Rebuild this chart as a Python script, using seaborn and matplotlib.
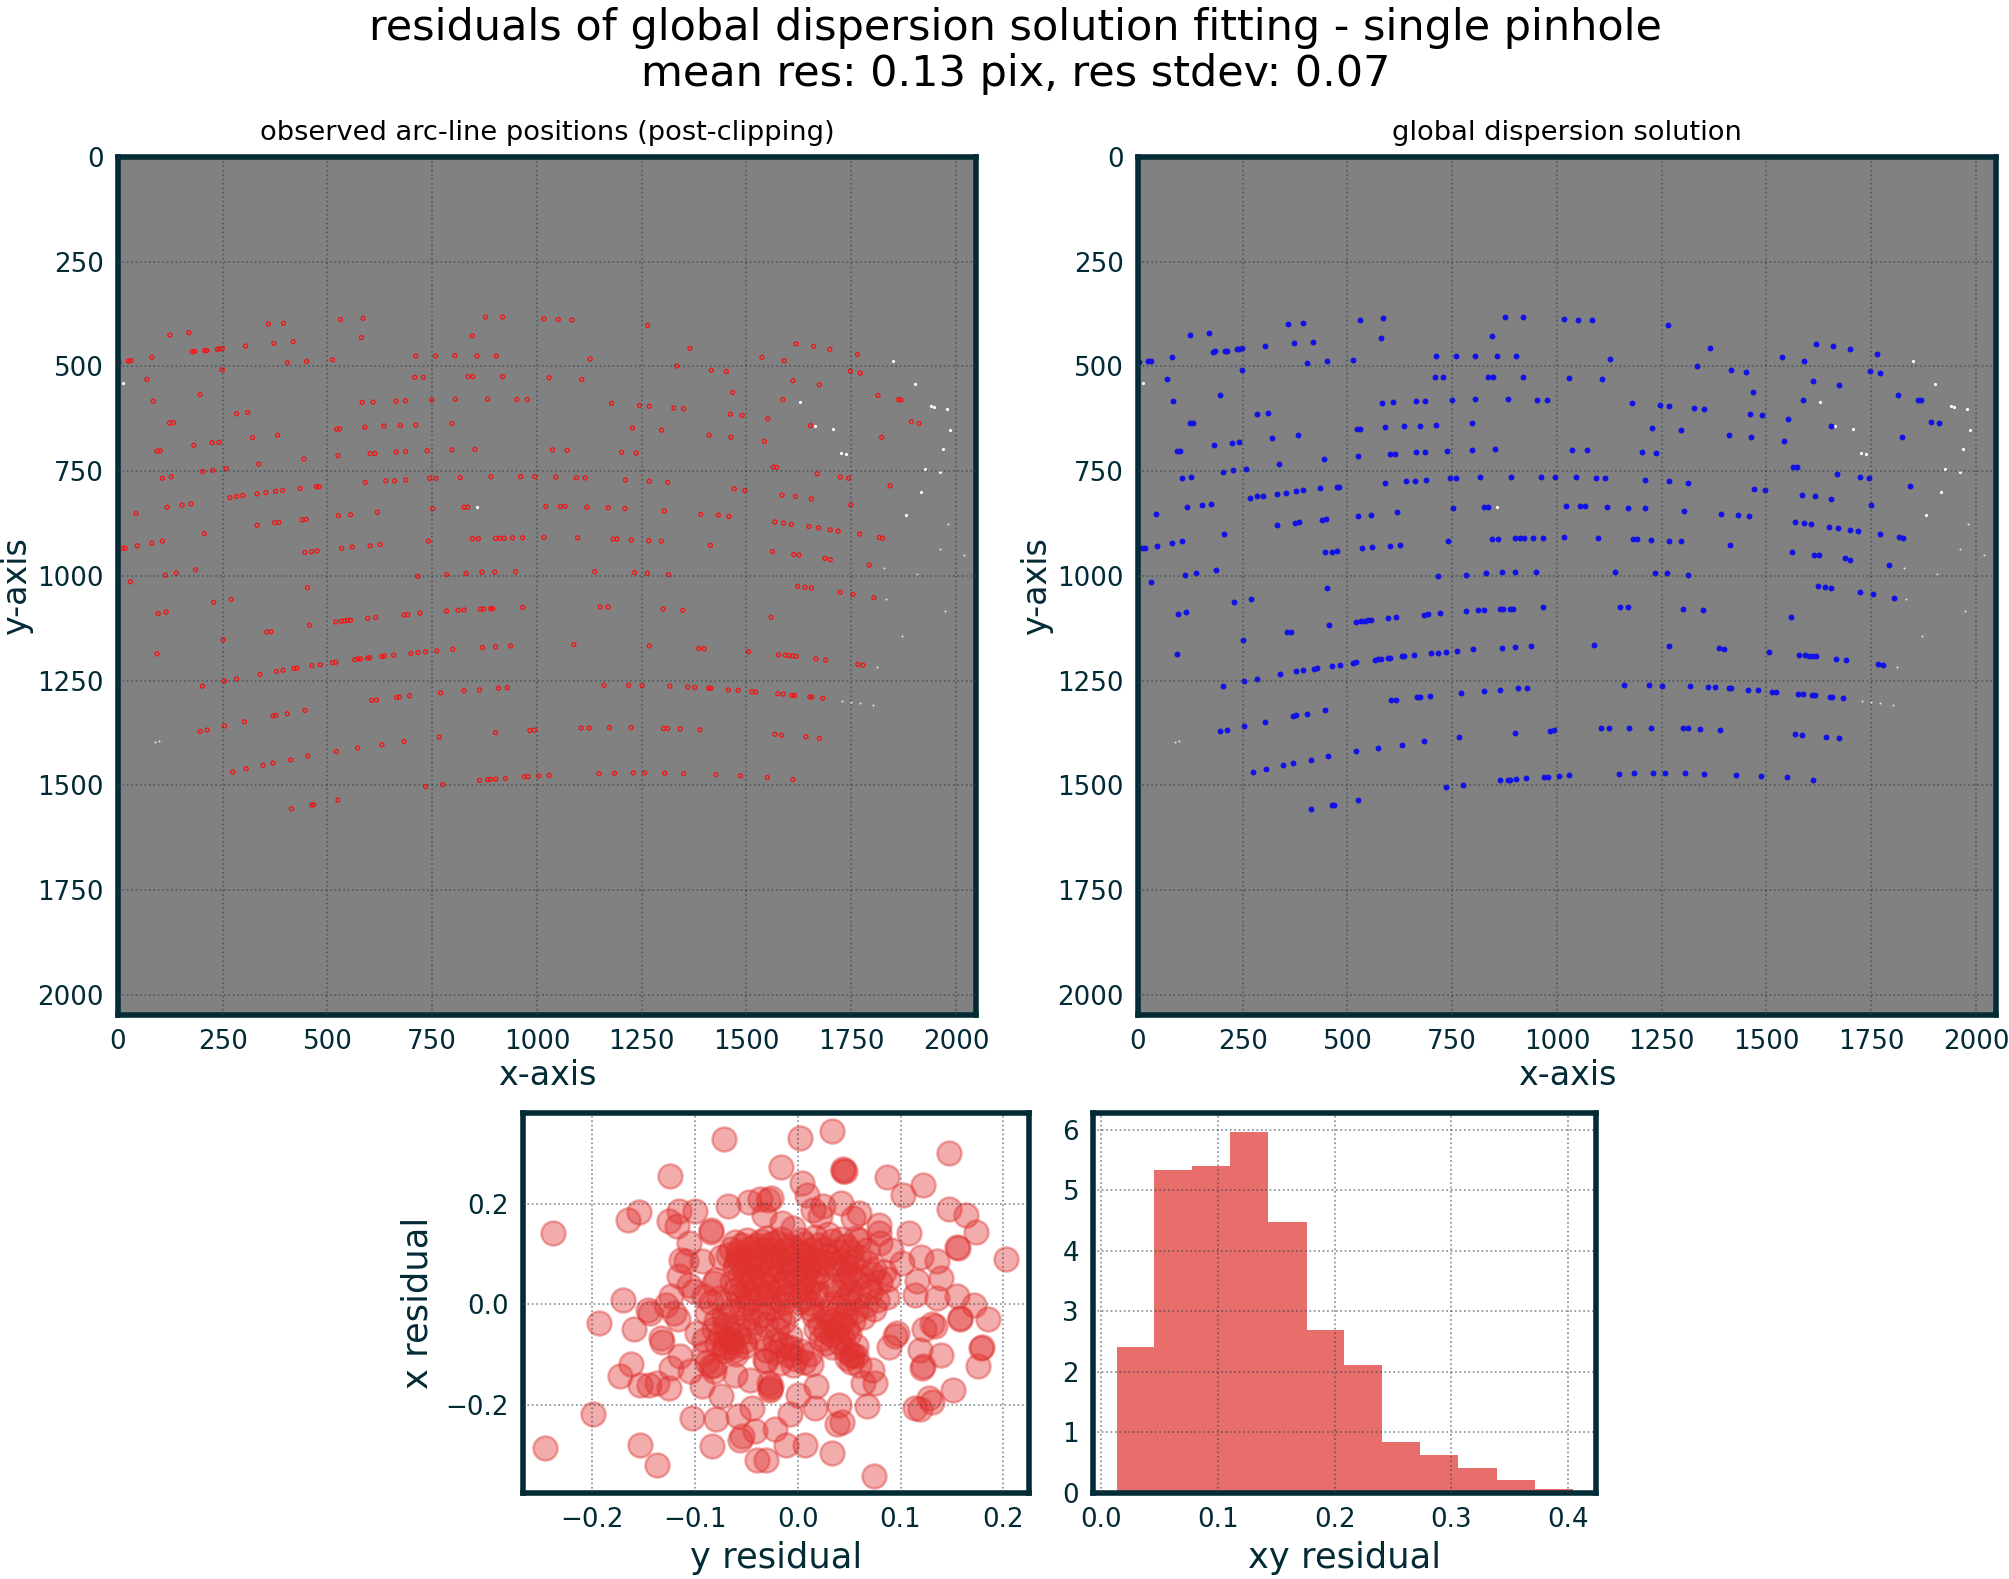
import matplotlib
matplotlib.use('Agg')
import matplotlib.pyplot as plt
import seaborn as sns

# --- values ---
# arc line positions, pixel x / pixel y on the detector
ARC_LINES = [
    (3, 490), (25, 487), (31, 486), (81, 478), (124, 425), (169, 419), (178, 465), (183, 464), (207, 462), (212, 462),
    (237, 459), (242, 458), (249, 457), (304, 451), (359, 399), (395, 397), (372, 445), (418, 441), (404, 491), (450, 488),
    (512, 484), (531, 388), (585, 385), (581, 431), (711, 475), (758, 475), (804, 474), (857, 475), (903, 475), (877, 382),
    (918, 382), (846, 427), (1017, 386), (1051, 388), (1083, 389), (1127, 482), (1264, 402), (1365, 457), (1334, 499),
    (1537, 478), (1590, 486), (1619, 446), (1660, 452), (1699, 459), (1765, 471),
    (249, 508), (69, 531), (708, 526), (729, 526), (835, 524), (847, 524), (918, 524), (1029, 527), (1107, 531),
    (1416, 509), (1452, 512), (1748, 511), (1772, 516), (1611, 534), (1674, 544),
    (84, 583), (196, 567), (583, 586), (609, 585), (664, 583), (686, 582), (749, 580), (805, 578), (882, 578), (952, 579),
    (977, 579), (1178, 588), (1245, 593), (1268, 595), (1327, 599), (1350, 601), (1467, 562), (1587, 579), (1814, 569),
    (1863, 579), (1869, 580),
    (123, 635), (132, 634), (283, 613), (310, 610), (522, 650), (529, 649), (589, 645), (635, 642), (674, 641), (711, 640),
    (797, 636), (1228, 647), (1297, 652), (1462, 614), (1490, 617), (1551, 625), (1653, 641), (1894, 632), (1912, 636),
    (321, 670), (381, 664), (181, 688), (225, 682), (241, 681), (93, 702), (101, 701), (444, 721), (525, 713), (602, 708),
    (613, 708), (664, 704), (686, 703), (738, 701), (797, 699), (852, 698), (1037, 699), (1072, 700), (1202, 705),
    (1237, 707), (1411, 664), (1463, 669), (1543, 679), (1823, 669),
    (336, 733), (202, 751), (226, 748), (258, 744), (106, 767), (127, 763), (590, 777), (639, 773), (660, 773), (687, 771),
    (744, 767), (759, 767), (817, 765), (890, 763), (961, 763), (995, 763), (1045, 764), (1094, 766), (1115, 766),
    (1211, 771), (1268, 774), (1312, 777), (1564, 740), (1572, 741), (1669, 756), (1724, 764), (1744, 767), (1471, 792),
    (1496, 796), (1843, 785),
    (267, 813), (283, 810), (298, 808), (332, 804), (353, 801), (376, 798), (393, 796), (435, 791), (474, 787), (480, 787),
    (1585, 807), (1617, 810), (1655, 816), (1749, 831),
    (43, 851), (117, 836), (153, 831), (174, 828), (526, 856), (555, 854), (619, 848), (751, 839), (826, 836), (835, 836),
    (1021, 834), (1056, 834), (1067, 834), (1119, 836), (1170, 837), (1210, 839), (1304, 845), (1391, 853), (1433, 855),
    (1458, 858),
    (332, 879), (374, 873), (384, 872), (440, 866), (449, 865), (206, 899), (1568, 871), (1589, 874), (1607, 877),
    (1649, 882), (1672, 885), (1700, 890), (1719, 893), (1770, 900), (1817, 908), (1825, 910),
    (10, 934), (17, 934), (46, 928), (81, 922), (106, 917), (741, 917), (846, 911), (860, 911), (901, 910), (911, 910),
    (922, 910), (942, 909), (966, 909), (1017, 908), (1097, 909), (1182, 912), (1191, 912), (1225, 914), (1267, 916),
    (1297, 917), (1414, 927),
    (446, 944), (462, 942), (475, 940), (534, 934), (559, 931), (602, 928), (626, 925), (1562, 942), (1613, 949),
    (1625, 950), (1687, 958), (1700, 961), (1793, 974),
    (113, 998), (139, 993), (185, 985), (30, 1014), (716, 1001), (784, 997), (831, 994), (869, 991), (899, 991), (949, 990),
    (1138, 990), (1233, 992), (1263, 994), (1314, 997),
    (452, 1028), (1622, 1025), (1640, 1027), (1655, 1029), (1724, 1039), (1754, 1044), (1804, 1052), (228, 1063), (270, 1056),
    (96, 1090), (115, 1086), (520, 1110), (533, 1108), (541, 1107), (548, 1106), (555, 1106), (596, 1101), (615, 1099),
    (683, 1093), (692, 1092), (721, 1089), (784, 1084), (812, 1082), (826, 1081), (865, 1079), (872, 1079), (889, 1078),
    (894, 1078), (966, 1075), (1151, 1074), (1170, 1074), (1301, 1079), (1348, 1082), (1559, 1099),
    (355, 1134), (365, 1133), (457, 1118), (251, 1152),
    (93, 1186), (339, 1235), (378, 1228), (394, 1225), (420, 1221), (427, 1220), (463, 1214), (483, 1212), (512, 1207),
    (520, 1206), (565, 1200), (573, 1198), (579, 1198), (596, 1196), (601, 1195), (630, 1192), (636, 1191), (658, 1189),
    (699, 1185), (716, 1183), (734, 1181), (761, 1179), (799, 1175), (870, 1171), (901, 1169), (937, 1167), (1088, 1164),
    (1268, 1167), (1386, 1173), (1399, 1174), (1505, 1181), (1577, 1188), (1593, 1189), (1602, 1190), (1610, 1191),
    (1619, 1192), (1666, 1198), (1689, 1201), (1766, 1211), (1778, 1213),
    (254, 1251), (283, 1246), (202, 1263), (1160, 1261), (1219, 1261), (1251, 1262), (1317, 1263), (1360, 1265), (1377, 1266),
    (1410, 1268), (1415, 1268), (1457, 1272), (1480, 1273), (1513, 1276), (1522, 1277), (1575, 1281), (1588, 1282),
    (1609, 1285), (1615, 1285), (1651, 1289), (1656, 1289), (1682, 1292), (605, 1297), (617, 1296), (665, 1290), (672, 1289),
    (696, 1286), (770, 1279), (826, 1274), (863, 1272), (908, 1268), (929, 1267),
    (446, 1321), (404, 1329), (370, 1334), (377, 1333), (302, 1348), (254, 1358), (196, 1371), (213, 1368), (1105, 1363),
    (1124, 1363), (1173, 1362), (1225, 1362), (1302, 1364), (1312, 1364), (1342, 1365), (1389, 1367), (983, 1369), (994, 1368),
    (901, 1374), (767, 1385), (1568, 1378), (1584, 1380), (1642, 1384), (1674, 1388),
    (683, 1395), (630, 1403), (572, 1411), (521, 1419), (453, 1430), (412, 1439), (370, 1447), (346, 1452), (306, 1460),
    (274, 1468), (1148, 1472), (1185, 1471), (1230, 1470), (1257, 1470), (1305, 1471), (1350, 1472), (1427, 1474), (1486, 1477),
    (1550, 1481), (1611, 1486), (1029, 1476), (1004, 1477), (979, 1479), (970, 1479), (925, 1483), (902, 1485), (889, 1486),
    (882, 1486), (863, 1488), (775, 1498), (734, 1503),
    (525, 1535), (462, 1547), (467, 1546), (414, 1556),
]

# bright pixels left in the frame, no line fitted there
HOT_PIXELS = [
    (13, 540), (1850, 487), (1902, 541), (1628, 585), (1664, 641), (1707, 649), (1940, 595), (1948, 596), (1978, 602),
    (1986, 652), (1725, 706), (1737, 708), (1969, 698), (1926, 744), (1961, 751), (1916, 800), (856, 835), (1880, 854),
]
FAINT_PIXELS = [
    (1982, 875), (1961, 935), (2020, 949), (1829, 981), (1906, 996), (1834, 1056), (1973, 1083), (1871, 1143), (1812, 1218),
    (1727, 1298), (1749, 1301), (1770, 1303), (1801, 1308), (88, 1397), (97, 1395),
]

# (y residual, x residual)
RESIDUALS = [
    (-0.238, 0.142), (-0.245, -0.286), (-0.199, -0.219), (-0.193, -0.038), (-0.170, 0.009), (-0.165, 0.168), (-0.154, 0.184),
    (-0.173, -0.143), (-0.162, -0.119), (-0.159, -0.049), (-0.153, -0.160), (-0.144, -0.160), (-0.137, -0.156), (-0.137, -0.320),
    (-0.153, -0.280), (-0.124, 0.256), (-0.125, 0.165), (-0.117, 0.156), (-0.115, 0.186), (-0.100, 0.186), (-0.072, 0.329),
    (0.002, 0.331), (0.033, 0.345), (-0.016, 0.274), (0.044, 0.269), (0.046, 0.266), (0.044, 0.265), (0.004, 0.241), (0.009, 0.218),
    (0.087, 0.253), (0.102, 0.218), (0.122, 0.237), (0.147, 0.302), (0.147, 0.190), (0.164, 0.178), (0.173, 0.145), (0.108, 0.142),
    (0.202, 0.090), (0.155, 0.115), (0.156, 0.112), (0.135, 0.087), (0.120, 0.095), (0.139, 0.052), (0.116, 0.046), (0.114, 0.019),
    (0.135, 0.013), (0.155, 0.016), (0.171, -0.001), (0.185, -0.029), (0.158, -0.027), (0.158, -0.029), (0.131, -0.040),
    (0.133, -0.044), (0.123, -0.050), (0.139, -0.100), (0.119, -0.090), (0.122, -0.123), (0.121, -0.127), (0.179, -0.084),
    (0.178, -0.087), (0.175, -0.122), (0.151, -0.171), (0.128, -0.186), (0.131, -0.195), (0.114, -0.206), (0.119, -0.208),
    (0.097, -0.057), (0.095, -0.062), (0.089, -0.084), (0.067, -0.203), (0.075, -0.156), (0.064, -0.156), (0.072, -0.130),
    (0.054, -0.100), (0.057, -0.103), (0.043, -0.235), (0.038, -0.239), (0.040, -0.200), (0.017, -0.206), (-0.007, -0.219),
    (0.033, -0.296), (0.007, -0.280), (-0.011, -0.280), (0.074, -0.341), (-0.039, -0.309), (-0.031, -0.310), (-0.022, -0.249),
    (-0.041, -0.253), (-0.054, -0.263), (-0.056, -0.269), (-0.083, -0.282), (-0.058, -0.223), (-0.103, -0.226), (-0.079, -0.229),
    (-0.074, -0.183), (-0.044, -0.206), (-0.027, -0.170), (-0.027, -0.166), (-0.026, -0.163), (-0.028, -0.156), (0.000, -0.180),
    (0.018, -0.163), (-0.093, -0.163), (-0.105, -0.133), (-0.123, -0.127), (-0.114, -0.103), (-0.125, -0.166), (-0.133, -0.067),
    (-0.132, -0.074), (-0.143, -0.017), (-0.145, -0.011), (-0.128, -0.001), (-0.120, -0.017), (-0.116, -0.030), (-0.123, 0.016),
    (-0.106, 0.122), (-0.113, 0.089), (-0.108, 0.086), (-0.115, 0.056), (-0.106, 0.039), (-0.101, 0.026), (-0.091, 0.016),
    (-0.093, 0.086), (-0.084, 0.149), (-0.084, 0.145), (-0.081, 0.042), (-0.079, 0.049), (-0.074, 0.095), (-0.068, 0.195),
    (-0.047, 0.204), (-0.037, 0.210), (-0.029, 0.208), (-0.026, 0.211), (-0.033, 0.178), (-0.015, 0.162), (-0.004, 0.152),
    (0.015, 0.188), (0.022, 0.175), (0.025, 0.195), (0.042, 0.202), (0.060, 0.182), (0.054, 0.172), (0.079, 0.158), (0.079, 0.142),
    (0.080, 0.122), (0.060, 0.129), (0.057, 0.132), (0.067, 0.109), (0.091, 0.109), (0.101, 0.082),
    (-0.061, 0.124), (-0.054, 0.118), (-0.036, 0.127), (-0.027, 0.120), (-0.021, 0.125), (-0.007, 0.117), (0.003, 0.128),
    (0.020, 0.119), (0.033, 0.126), (0.047, 0.116),
    (-0.068, 0.098), (-0.058, 0.092), (-0.041, 0.101), (-0.031, 0.093), (-0.021, 0.097), (-0.009, 0.090), (0.006, 0.099),
    (0.016, 0.091), (0.030, 0.096), (0.043, 0.089), (0.060, 0.094),
    (-0.061, 0.072), (-0.051, 0.066), (-0.039, 0.074), (-0.027, 0.064), (-0.017, 0.071), (-0.004, 0.063), (0.011, 0.073),
    (0.023, 0.066), (0.038, 0.070), (0.050, 0.062), (0.074, 0.071), (0.084, 0.065),
    (-0.064, 0.045), (-0.054, 0.038), (-0.042, 0.047), (-0.031, 0.036), (-0.012, 0.044), (0.003, 0.037), (0.015, 0.046),
    (0.033, 0.039), (0.045, 0.043), (0.069, 0.036), (0.080, 0.045),
    (-0.058, 0.019), (-0.046, 0.011), (-0.034, 0.020), (-0.021, 0.012), (-0.009, 0.018), (0.006, 0.010), (0.023, 0.019),
    (0.047, 0.013), (0.060, 0.017), (0.077, 0.009), (0.087, 0.015),
    (-0.054, -0.008), (-0.041, -0.015), (-0.024, -0.007), (-0.007, -0.013), (0.013, -0.009), (0.027, -0.016), (0.040, -0.008),
    (0.057, -0.014), (0.074, -0.010),
    (-0.079, -0.034), (-0.071, -0.041), (-0.041, -0.035), (-0.031, -0.042), (-0.014, -0.036), (0.022, -0.041), (0.032, -0.034),
    (0.042, -0.040), (0.054, -0.033),
    (-0.074, -0.061), (-0.066, -0.068), (-0.058, -0.060), (-0.036, -0.067), (-0.007, -0.062), (0.023, -0.069), (0.033, -0.060),
    (0.043, -0.066), (0.050, -0.059),
    (-0.071, -0.085), (-0.061, -0.091), (-0.051, -0.083), (-0.031, -0.090), (-0.010, -0.084), (0.003, -0.092), (0.033, -0.085),
    (0.047, -0.090), (0.057, -0.083),
    (-0.088, -0.114), (-0.081, -0.120), (-0.031, -0.113), (-0.004, -0.121), (0.006, -0.115), (0.013, -0.119), (0.052, -0.114),
    (0.060, -0.120),
    (-0.088, -0.017), (-0.081, -0.050), (-0.091, -0.070), (-0.098, -0.057), (-0.091, -0.097), (-0.084, -0.123), (-0.081, -0.133),
    (-0.061, -0.140), (-0.046, -0.150), (-0.032, -0.110), (-0.017, -0.117),
    # packed core, overlaps too much to read one by one
    (-0.065, 0.110), (-0.058, 0.105), (-0.049, 0.128), (-0.045, 0.112), (-0.040, 0.118), (-0.034, 0.108), (-0.030, 0.133),
    (-0.024, 0.110), (-0.016, 0.131), (-0.012, 0.108), (-0.004, 0.112), (0.001, 0.104), (0.006, 0.120), (0.012, 0.109),
    (0.017, 0.135), (0.026, 0.110), (0.030, 0.140), (0.038, 0.106), (0.042, 0.130), (0.052, 0.105),
    (-0.060, 0.082), (-0.052, 0.086), (-0.046, 0.078), (-0.036, 0.083), (-0.026, 0.080), (-0.014, 0.084), (-0.006, 0.078),
    (0.002, 0.082), (0.010, 0.077), (0.020, 0.080), (0.025, 0.085), (0.035, 0.080), (0.047, 0.078), (0.053, 0.084),
    (0.066, 0.082), (0.072, 0.060),
    (-0.056, 0.056), (-0.046, 0.052), (-0.036, 0.056), (-0.024, 0.052), (-0.010, 0.056), (-0.001, 0.050), (0.007, 0.056),
    (0.018, 0.053), (0.047, 0.052), (0.056, 0.048), (0.062, 0.055), (0.088, 0.050),
    (-0.060, 0.028), (-0.050, 0.024), (-0.040, 0.030), (-0.028, 0.026), (-0.016, 0.030), (-0.003, 0.024), (0.010, 0.028),
    (0.018, 0.022), (0.038, 0.024), (0.052, 0.026), (0.070, 0.024),
    (-0.048, 0.002), (-0.030, 0.004), (-0.014, 0.002), (0.001, 0.004), (0.012, 0.002), (0.034, 0.000), (0.050, 0.002),
    (0.066, -0.002),
    (-0.072, -0.024), (-0.048, -0.026), (-0.034, -0.022), (-0.018, -0.026), (0.016, -0.024), (0.030, -0.028), (0.046, -0.024),
    (0.064, -0.026),
    (-0.068, -0.050), (-0.058, -0.046), (-0.046, -0.052), (0.018, -0.050), (0.028, -0.052), (0.038, -0.048), (0.048, -0.050),
    (-0.020, -0.050),
    (-0.064, -0.074), (-0.052, -0.072), (0.028, -0.076), (0.040, -0.074), (-0.008, -0.100), (-0.002, -0.108), (0.052, -0.100),
    (0.048, -0.106),
    (-0.078, -0.078), (-0.070, -0.072), (-0.072, -0.092), (-0.060, -0.098), (-0.066, -0.084), (-0.016, -0.078), (-0.022, -0.094),
    (-0.006, -0.086), (0.012, -0.098), (-0.084, 0.004), (-0.076, 0.012), (-0.068, 0.000), (-0.064, -0.014), (-0.022, -0.072),
]

# histogram of the xy residual, density per bin
HIST_EDGES = [0.0132, 0.0450, 0.0781, 0.1105, 0.1429, 0.1760, 0.2081, 0.2409, 0.2736, 0.3061, 0.3388, 0.3716, 0.4043]
HIST_DENSITY = [2.41, 5.33, 5.40, 5.97, 4.48, 2.69, 2.12, 0.843, 0.628, 0.419, 0.209, 0.066]

DETECTOR_TICKS = [0, 250, 500, 750, 1000, 1250, 1500, 1750, 2000]
SCATTER_XTICKS = [-0.2, -0.1, 0.0, 0.1, 0.2]
SCATTER_YTICKS = [-0.2, 0.0, 0.2]
HIST_XTICKS = [0.0, 0.1, 0.2, 0.3, 0.4]
HIST_YTICKS = [0, 1, 2, 3, 4, 5, 6]

# --- Configuration ---
INK = '#022b36'
GRID = '#2c3e46'
RED = '#df312e'
W, H = 2009, 1579


def add_axes(fig, left, top, right, bottom):
    """axes from pixel edges of the final image"""
    return fig.add_axes([left / W, 1 - bottom / H, (right - left) / W, (bottom - top) / H])


def style_axes(ax):
    for spine in ax.spines.values():
        spine.set_linewidth(2.0)
        spine.set_color(INK)
    ax.tick_params(which='major', direction='in', length=5, width=1.0, color=INK, labelcolor=INK,
                   labelsize=9.4, top=False, right=False, pad=5)
    ax.grid(True, linestyle=':', linewidth=0.6, color=GRID, alpha=0.6)
    ax.set_axisbelow(False)


def detector_panel(ax, title):
    ax.set_facecolor('#818181')
    ax.set_xlim(0, 2048)
    ax.set_ylim(2048, 0)
    ax.set_xticks(DETECTOR_TICKS)
    ax.set_yticks(DETECTOR_TICKS)
    style_axes(ax)
    hot_x, hot_y = zip(*HOT_PIXELS)
    sns.scatterplot(x=list(hot_x), y=list(hot_y), s=1.3, color='white', linewidth=0, ax=ax)
    faint_x, faint_y = zip(*FAINT_PIXELS)
    sns.scatterplot(x=list(faint_x), y=list(faint_y), s=0.5, color='#e8e8e8', linewidth=0, ax=ax)
    ax.set_xlabel('x-axis', fontsize=12, color=INK, labelpad=1.5)
    ax.set_ylabel('y-axis', fontsize=12, color=INK, labelpad=1.5)
    ax.set_title(title, fontsize=9.8, color='black', pad=6)


def main():
    sns.set_theme(style='white')
    plt.rcParams['font.family'] = ['DejaVu Sans']
    fig = plt.figure(figsize=(W / 200, H / 200), dpi=200)
    fig.patch.set_facecolor('white')

    line_x, line_y = zip(*ARC_LINES)
    line_x, line_y = list(line_x), list(line_y)

    # observed line positions
    ax1 = add_axes(fig, 118, 157, 976, 1015)
    detector_panel(ax1, 'observed arc-line positions (post-clipping)')
    sns.scatterplot(x=line_x, y=line_y, s=2.0, facecolor='none', edgecolor='#f01818', linewidth=0.5, ax=ax1)
    ax1.set_xlim(0, 2048)
    ax1.set_ylim(2048, 0)

    # fitted solution
    ax2 = add_axes(fig, 1138, 157, 1996, 1015)
    detector_panel(ax2, 'global dispersion solution')
    sns.scatterplot(x=line_x, y=line_y, s=4.5, color='#1212e6', linewidth=0, ax=ax2)
    ax2.set_xlim(0, 2048)
    ax2.set_ylim(2048, 0)

    # residual scatter
    res_y, res_x = zip(*RESIDUALS)
    ax3 = add_axes(fig, 523, 1113, 1029, 1493)
    style_axes(ax3)
    sns.scatterplot(x=list(res_y), y=list(res_x), s=75, color=RED, edgecolor=RED, linewidth=0.9, alpha=0.4, ax=ax3)
    ax3.set_xlim(-0.2668, 0.2248)
    ax3.set_ylim(-0.3755, 0.381)
    ax3.set_xticks(SCATTER_XTICKS)
    ax3.set_yticks(SCATTER_YTICKS)
    ax3.set_xlabel('y residual', fontsize=12.7, color=INK, labelpad=3)
    ax3.set_ylabel('x residual', fontsize=12.7, color=INK, labelpad=4)

    # residual histogram
    ax4 = add_axes(fig, 1093, 1113, 1596, 1493)
    style_axes(ax4)
    centres = [(a + b) / 2 for a, b in zip(HIST_EDGES[:-1], HIST_EDGES[1:])]
    sns.histplot(x=centres, weights=HIST_DENSITY, bins=HIST_EDGES, color=RED, alpha=0.7, linewidth=0, ax=ax4)
    ax4.set_xlim(-0.007, 0.424)
    ax4.set_ylim(0, 6.28)
    ax4.set_xticks(HIST_XTICKS)
    ax4.set_yticks(HIST_YTICKS)
    ax4.set_xlabel('xy residual', fontsize=12.7, color=INK, labelpad=3)
    ax4.set_ylabel('')

    fig.suptitle('residuals of global dispersion solution fitting - single pinhole\n'
                 'mean res: 0.13 pix, res stdev: 0.07', fontsize=15.5, color='black', x=0.5055, y=0.9955,
                 va='top', linespacing=1.13)

    fig.savefig('out.png', dpi=200)
    plt.close(fig)


if __name__ == "__main__":
    main()
